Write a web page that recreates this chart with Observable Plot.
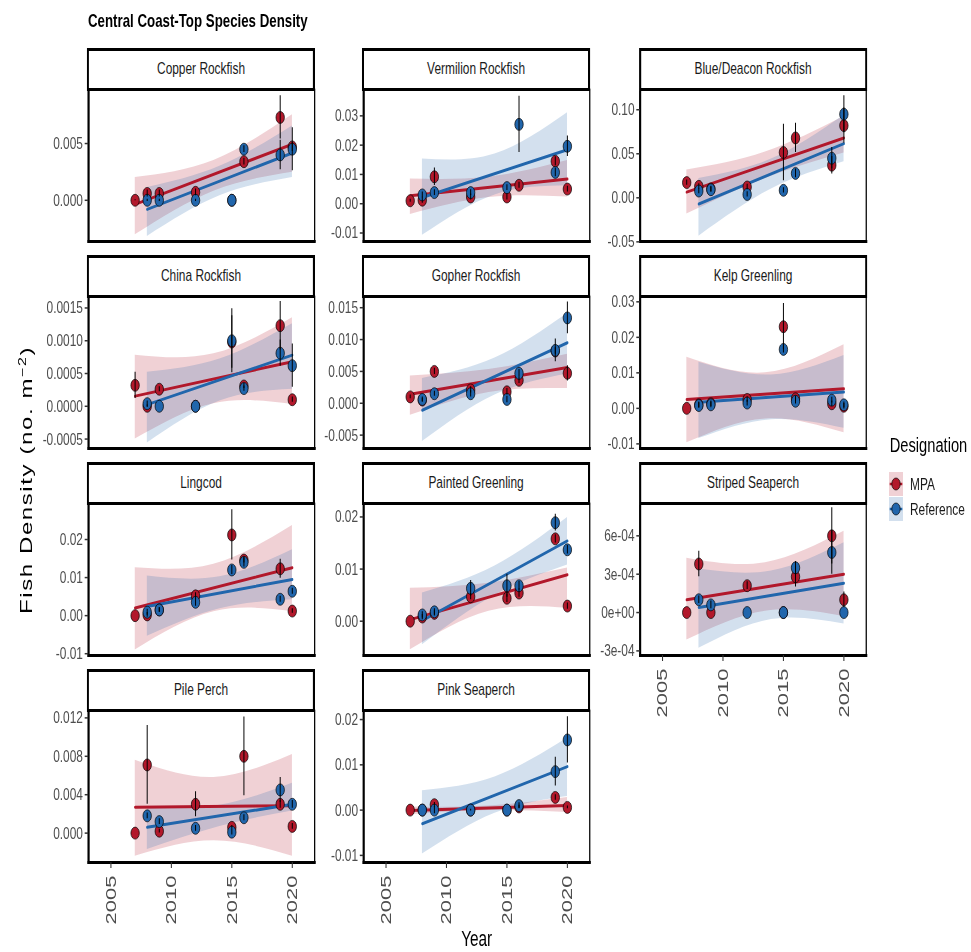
<!DOCTYPE html>
<html><head><meta charset="utf-8">
<script src="https://cdn.jsdelivr.net/npm/d3@7"></script>
<script src="https://cdn.jsdelivr.net/npm/@observablehq/plot@0.6"></script>
<style>
body{margin:0;background:#fff;}
#wrap{position:relative;width:971px;height:952px;overflow:hidden;background:#fff;}
#chart{position:absolute;left:0;top:0;width:1387px;height:952px;transform:scaleX(0.7);transform-origin:0 0;font-family:"Liberation Sans",Arial,Helvetica,sans-serif;}
.strip{position:absolute;box-sizing:border-box;border:3px solid #000;background:#fff;display:flex;align-items:center;justify-content:center;font-size:17px;color:#1a1a1a;}
.panel{position:absolute;overflow:visible;}
</style></head><body><div id="wrap"><div id="chart"></div></div>
<script>
// ---------------- DATA ----------------
const species = ["Copper Rockfish","Vermilion Rockfish","Blue/Deacon Rockfish","China Rockfish","Gopher Rockfish","Kelp Greenling","Lingcod","Painted Greenling","Striped Seaperch","Pile Perch","Pink Seaperch"];
const designations = ["MPA","Reference"];
const mpaYears = [2007, 2008, 2009, 2012, 2015, 2016, 2019, 2020];
const refYears = [2008, 2009, 2012, 2015, 2016, 2019, 2020];

const mpaMean = [
  [0, 0.0006, 0.0006, 0.0007, 0, 0.0034, 0.0073, 0.0047],
  [0.001, 0.0012, 0.0092, 0.0023, 0.0023, 0.0063, 0.0145, 0.005],
  [0.0173, 0.013, 0.010, 0.0123, 0.0515, 0.068, 0.037, 0.082],
  [0.00032, 0.0, 0.00026, 0.0, 0.00098, 0.00031, 0.00123, 0.0001],
  [0.001, 0.0005, 0.005, 0.0021, 0.0018, 0.0036, 0.0082, 0.0047],
  [0, 0.001, 0.0013, 0.0025, 0.023, 0.0027, 0.0013, 0.0006],
  [0, 0.0002, 0.0015, 0.0052, 0.0212, 0.0146, 0.0123, 0.0012],
  [0, 0.0008, 0.0015, 0.0047, 0.0044, 0.0054, 0.0158, 0.0029],
  [0, 0.00038, 0, 0.00021, 0, 0.00028, 0.0006, 0.0001],
  [0, 0.0071, 0.0002, 0.003, 0.0006, 0.008, 0.003, 0.0007],
  [0, 0, 0.0012, 0, 0, 0.0007, 0.0028, 0.0006]
];
const mpaSE = [
  [0.00005, 0.0003, 0.0003, 0.0003, 0, 0.0003, 0.0019, 0.0004],
  [0.0005, 0.001, 0.003, 0.001, 0.001, 0.001, 0.0015, 0.001],
  [0.003, 0.003, 0.003, 0.003, 0.032, 0.0166, 0.01, 0.02],
  [0.0002, 0.00002, 0.00004, 0, 0.0004, 0.00004, 0.00037, 0.00004],
  [0.0003, 0.0003, 0.0005, 0.0005, 0.0005, 0.0005, 0.0005, 0.0012],
  [0, 0.0008, 0.0008, 0.0008, 0.0065, 0.0008, 0.0008, 0.0008],
  [0, 0.0006, 0.0006, 0.0008, 0.0066, 0.0008, 0.0025, 0.0006],
  [0, 0.0005, 0.0005, 0.0006, 0.0008, 0.0008, 0.0008, 0.0006],
  [0, 0.0001, 0, 0.00003, 0, 0.00008, 0.00022, 0.00006],
  [0, 0.0041, 0.0002, 0.0013, 0.0002, 0.0041, 0.0004, 0.0003],
  [0, 0, 0.0005, 0, 0, 0.0004, 0.0006, 0.0003]
];
const refMean = [
  [0, 0, 0, 0, 0.0045, 0.0040, 0.0045],
  [0.003, 0.0038, 0.0038, 0.0055, 0.0271, 0.0107, 0.0196],
  [0.0077, 0.0092, 0.0038, 0.0085, 0.0277, 0.045, 0.095],
  [0.00004, 0, 0, 0.001, 0.00027, 0.00081, 0.00062],
  [0.0006, 0.0015, 0.0015, 0.0006, 0.0047, 0.0083, 0.0134],
  [0.0008, 0.001, 0.0015, 0.0166, 0.002, 0.0023, 0.001],
  [0.0009, 0.0015, 0.0035, 0.012, 0.014, 0.0043, 0.0064],
  [0.0012, 0.0018, 0.0063, 0.0068, 0.0068, 0.0189, 0.0137],
  [0.0001, 0.00006, 0, 0, 0.00035, 0.00047, 0],
  [0.0018, 0.0012, 0.0005, 0.0001, 0.0016, 0.0045, 0.003],
  [0, 0, 0, 0, 0.001, 0.0085, 0.0155]
];
const refSE = [
  [0.0001, 0.0001, 0.0001, 0, 0.0003, 0.0013, 0.0019],
  [0.001, 0.001, 0.001, 0.001, 0.0096, 0.0015, 0.0035],
  [0.003, 0.003, 0.003, 0.003, 0.005, 0.012, 0.021],
  [0.00004, 0, 0, 0.00049, 0.00004, 0.0002, 0.00033],
  [0.0004, 0.0004, 0.0005, 0.0005, 0.0006, 0.0018, 0.0025],
  [0.0008, 0.0008, 0.0008, 0.001, 0.0008, 0.0008, 0.0008],
  [0.0008, 0.0006, 0.001, 0.0012, 0.0012, 0.0008, 0.0008],
  [0.0006, 0.0006, 0.0015, 0.0022, 0.0008, 0.0016, 0.0008],
  [0.00003, 0.00003, 0, 0, 0.00005, 0.00017, 0],
  [0.0003, 0.0003, 0.0003, 0.0003, 0.0003, 0.0013, 0.0004],
  [0, 0.0008, 0.0002, 0, 0.0006, 0.0032, 0.0051]
];

// fitted lines (read at first and last year)
const mpaFitYears = [2007, 2020];
const refFitYears = [2008, 2020];
const mpaFit = [
  [-0.00036, 0.00494], [0.0027, 0.0084], [0.0065, 0.068], [0.000155, 0.00068],
  [0.0014, 0.0056], [0.0025, 0.0055], [0.002, 0.0126], [0.0003, 0.0089],
  [0.0001, 0.0003], [0.0027, 0.00285], [-0.0001, 0.001]
];
const refFit = [
  [-0.0008, 0.00417], [0.0021, 0.0184], [-0.007, 0.0615], [0.000026, 0.00078],
  [-0.0011, 0.0095], [0.0017, 0.0046], [0.0024, 0.0095], [0.0001, 0.0154],
  [0.00004, 0.00023], [0.0006, 0.003], [-0.003, 0.0096]
];

// confidence ribbons (read at start, middle, end)
const mpaBandYears = [2007, 2013.5, 2020];
const refBandYears = [2008, 2014, 2020];
const mpaLo = [
  [-0.00304, 0.0008, 0.00247], [-0.0037, 0.0021, 0.0023], [-0.0185, 0.022, 0.0508], [-0.0005, 0.00004, 0.000026],
  [-0.0019, 0.0017, 0.0023], [-0.0097, -0.0030, -0.0069], [-0.009, 0.001, 0.0011], [-0.0055, 0.0019, 0.0025],
  [-0.000215, 0.00001, -0.00003], [-0.0024, -0.0008, -0.0024], [-0.001, -0.0001, -0.0005]
];
const mpaHi = [
  [0.002, 0.0035, 0.00753], [0.0084, 0.0091, 0.0148], [0.0315, 0.052, 0.0923], [0.00078, 0.0008, 0.00135],
  [0.0043, 0.0053, 0.0077], [0.0144, 0.0100, 0.0179], [0.0126, 0.0135, 0.0237], [0.0063, 0.0073, 0.0102],
  [0.000425, 0.00039, 0.000635], [0.0076, 0.0058, 0.0082], [0.0007, 0.0009, 0.0028]
];
const refLo = [
  [-0.00318, 0.0004, 0.002], [-0.0108, 0.003, 0.0061], [-0.0435, 0.01, 0.041], [-0.00056, 0.00008, 0.00026],
  [-0.006, 0.0013, 0.0046], [-0.0085, -0.0032, -0.0056], [-0.0054, 0.0018, 0.0042], [-0.0045, 0.005, 0.0108],
  [-0.00028, -0.000055, -0.00009], [-0.0017, 0.0007, 0.0023], [-0.0097, -0.0007, 0.003]
];
const refHi = [
  [0.00113, 0.003, 0.00655], [0.0153, 0.017, 0.0311], [0.022, 0.044, 0.0938], [0.00052, 0.00072, 0.00126],
  [0.0039, 0.0071, 0.0141], [0.013, 0.0094, 0.0149], [0.0104, 0.0102, 0.0173], [0.0054, 0.0106, 0.0199],
  [0.00034, 0.000325, 0.000546], [0.0027, 0.0029, 0.0052], [0.0043, 0.0073, 0.0159]
];

// axes
const yDomains = [
  [-0.00363, 0.00976], [-0.0129, 0.039], [-0.0496, 0.123], [-0.000644, 0.001675],
  [-0.0071, 0.01676], [-0.0113, 0.0315], [-0.01047, 0.02946], [-0.00658, 0.02258],
  [-0.000336, 0.000853], [-0.00306, 0.01277], [-0.01157, 0.022]
];
const yTicks = [
  [0, 0.005], [-0.01, 0, 0.01, 0.02, 0.03], [-0.05, 0, 0.05, 0.1], [-0.0005, 0, 0.0005, 0.001, 0.0015],
  [-0.005, 0, 0.005, 0.01, 0.015], [-0.01, 0, 0.01, 0.02, 0.03], [-0.01, 0, 0.01, 0.02], [0, 0.01, 0.02],
  [-0.0003, 0, 0.0003, 0.0006], [0, 0.004, 0.008, 0.012], [-0.01, 0, 0.01, 0.02]
];
const yTickLabels = [
  ["0.000","0.005"], ["-0.01","0.00","0.01","0.02","0.03"], ["-0.05","0.00","0.05","0.10"],
  ["-0.0005","0.0000","0.0005","0.0010","0.0015"], ["-0.005","0.000","0.005","0.010","0.015"],
  ["-0.01","0.00","0.01","0.02","0.03"], ["-0.01","0.00","0.01","0.02"], ["0.00","0.01","0.02"],
  ["-3e-04","0e+00","3e-04","6e-04"], ["0.000","0.004","0.008","0.012"], ["-0.01","0.00","0.01","0.02"]
];
const xTicks = [2005, 2010, 2015, 2020];
const xDomain = [2003.15, 2021.85];
const colors = ["#b2182b", "#2166ac"];

// ---------------- LAYOUT (virtual px, compressed by scaleX) ----------------
const colLeft = [125.7, 518.6, 914.3];
const rowTop = [89, 296, 503, 710];
const panelW = 323, panelH = 152, stripH = 41;
const mL = 95, mR = 6, mT = 4;
const bottomPanels = new Set([8, 9, 10]);
const font = '"Liberation Sans", Arial, Helvetica, sans-serif';
const chart = document.getElementById("chart");

// overlay svg for titles & legend
const ov = d3.select(chart).append("svg")
  .attr("width", 1387).attr("height", 952)
  .style("position", "absolute").style("left", 0).style("top", 0)
  .style("font-family", font);
ov.append("text").attr("x", 125.7).attr("y", 27).attr("font-weight", "bold")
  .attr("font-size", 19).attr("fill", "#000").text("Central Coast-Top Species Density");
const yt = ov.append("text").attr("transform", "translate(46,480) rotate(-90)")
  .attr("text-anchor", "middle").attr("font-size", 24).attr("letter-spacing", 1.6).attr("fill", "#000");
yt.append("tspan").text("Fish Density (no. m");
yt.append("tspan").attr("dy", -9).attr("font-size", 16).text("\u22122");
yt.append("tspan").attr("dy", 9).text(")");
ov.append("text").attr("x", 681).attr("y", 946).attr("text-anchor", "middle")
  .attr("font-size", 22).attr("fill", "#000").text("Year");

// legend
const lg = ov.append("g");
lg.append("text").attr("x", 1271).attr("y", 452).attr("font-size", 21).attr("fill", "#000").text("Designation");
designations.forEach((d, i) => {
  const y0 = 472 + i * 25;
  lg.append("rect").attr("x", 1270).attr("y", y0).attr("width", 20).attr("height", 24)
    .attr("fill", colors[i]).attr("fill-opacity", 0.2);
  lg.append("line").attr("x1", 1271).attr("x2", 1289).attr("y1", y0 + 12).attr("y2", y0 + 12)
    .attr("stroke", colors[i]).attr("stroke-width", 2.5);
  lg.append("circle").attr("cx", 1280).attr("cy", y0 + 12).attr("r", 6)
    .attr("fill", colors[i]).attr("stroke", "#000").attr("stroke-width", 0.8);
  lg.append("text").attr("x", 1300).attr("y", y0 + 18).attr("font-size", 17).attr("fill", "#1a1a1a").text(d);
});

// ---------------- PANELS ----------------
species.forEach((sp, i) => {
  const row = Math.floor(i / 3), col = i % 3;
  const left = colLeft[col], top = rowTop[row];
  const isBottom = bottomPanels.has(i);
  const mB = isBottom ? 95 : 4;

  const pts = [
    ...mpaYears.map((yr, j) => ({year: yr, mean: mpaMean[i][j], se: mpaSE[i][j], des: "MPA"})),
    ...refYears.map((yr, j) => ({year: yr, mean: refMean[i][j], se: refSE[i][j], des: "Reference"}))
  ];
  const fit = [
    ...mpaFitYears.map((yr, j) => ({year: yr, v: mpaFit[i][j], des: "MPA"})),
    ...refFitYears.map((yr, j) => ({year: yr, v: refFit[i][j], des: "Reference"}))
  ];
  const band = [
    ...mpaBandYears.map((yr, j) => ({year: yr, lo: mpaLo[i][j], hi: mpaHi[i][j], des: "MPA"})),
    ...refBandYears.map((yr, j) => ({year: yr, lo: refLo[i][j], hi: refHi[i][j], des: "Reference"}))
  ];
  const labelMap = new Map(yTicks[i].map((t, k) => [t, yTickLabels[i][k]]));

  const marks = [
    Plot.areaY(band, {x: "year", y1: "lo", y2: "hi", fill: "des", fillOpacity: 0.2, curve: "natural", clip: true}),
    Plot.line(fit, {x: "year", y: "v", stroke: "des", strokeWidth: 3, clip: true}),
    Plot.dot(pts, {x: "year", y: "mean", fill: "des", stroke: "black", strokeWidth: 0.8, r: 6}),
    Plot.ruleX(pts.filter(d => d.se > 0), {x: "year", y1: d => d.mean - d.se, y2: d => d.mean + d.se, stroke: "black", strokeWidth: 1.4}),
    Plot.frame({stroke: "black", strokeWidth: 1.8}),
    Plot.frame({anchor: "left", stroke: "black", strokeWidth: 3}),
    Plot.frame({anchor: "bottom", stroke: "black", strokeWidth: 3}),
    Plot.axisY({ticks: yTicks[i], tickFormat: d => labelMap.get(d), label: null, tickSize: 5, tickPadding: 3,
      fontSize: 17, fill: "#4d4d4d", stroke: "#333333", strokeWidth: 1.5})
  ];
  if (isBottom) {
    marks.push(Plot.axisX({ticks: xTicks, tickFormat: d => String(d), label: null, tickRotate: -90, tickSize: 6,
      tickPadding: 7, fontSize: 22, fill: "#4d4d4d", stroke: "#333333", strokeWidth: 1.5}));
  }

  const svg = Plot.plot({
    width: panelW + mL + mR,
    height: panelH + mT + mB,
    marginLeft: mL, marginRight: mR, marginTop: mT, marginBottom: mB,
    style: {fontFamily: font, background: "transparent", overflow: "visible"},
    x: {domain: xDomain, axis: isBottom ? undefined : null, label: null},
    y: {domain: yDomains[i], label: null},
    color: {domain: designations, range: colors},
    marks
  });
  svg.classList.add("panel");
  svg.style.left = (left - mL) + "px";
  svg.style.top = (top - mT) + "px";
  chart.appendChild(svg);

  const strip = document.createElement("div");
  strip.className = "strip";
  strip.style.left = (left - 1.5) + "px";
  strip.style.top = (top - stripH) + "px";
  strip.style.width = (panelW + 3) + "px";
  strip.style.height = (stripH + 1.5) + "px";
  strip.textContent = sp;
  chart.appendChild(strip);
});
</script></body></html>
